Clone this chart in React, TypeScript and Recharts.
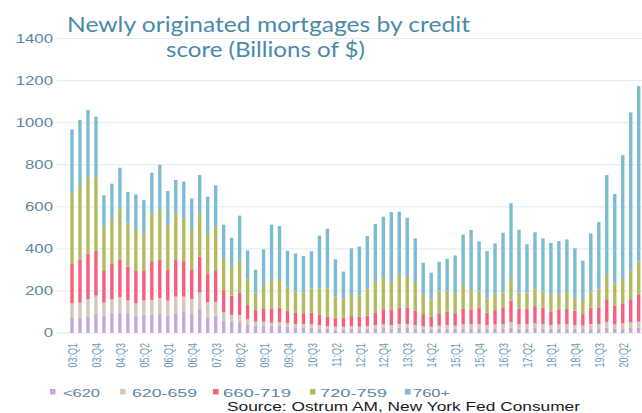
import React from 'react';
import { BarChart, Bar, XAxis, YAxis, CartesianGrid } from 'recharts';

const quarters = [
  '03:Q1','03:Q2','03:Q3','03:Q4','04:Q1','04:Q2','04:Q3','04:Q4',
  '05:Q1','05:Q2','05:Q3','05:Q4','06:Q1','06:Q2','06:Q3','06:Q4',
  '07:Q1','07:Q2','07:Q3','07:Q4','08:Q1','08:Q2','08:Q3','08:Q4',
  '09:Q1','09:Q2','09:Q3','09:Q4','10:Q1','10:Q2','10:Q3','10:Q4',
  '11:Q1','11:Q2','11:Q3','11:Q4','12:Q1','12:Q2','12:Q3','12:Q4',
  '13:Q1','13:Q2','13:Q3','13:Q4','14:Q1','14:Q2','14:Q3','14:Q4',
  '15:Q1','15:Q2','15:Q3','15:Q4','16:Q1','16:Q2','16:Q3','16:Q4',
  '17:Q1','17:Q2','17:Q3','17:Q4','18:Q1','18:Q2','18:Q3','18:Q4',
  '19:Q1','19:Q2','19:Q3','19:Q4','20:Q1','20:Q2','20:Q3','20:Q4',
];

const below620 = [
  75, 73, 78, 90, 82, 94, 97, 90, 84, 87, 87, 90, 84, 97, 100, 90,
  116, 78, 82, 60, 54, 54, 38, 35, 35, 33, 33, 30, 27, 27, 25, 22,
  19, 17, 17, 20, 18, 20, 22, 24, 22, 24, 24, 22, 20, 18, 20, 21,
  20, 22, 22, 22, 20, 22, 22, 26, 22, 22, 24, 22, 20, 22, 22, 20,
  19, 22, 22, 25, 22, 22, 24, 25,
];
const s620to659 = [
  66, 71, 82, 88, 62, 66, 73, 64, 57, 67, 70, 75, 70, 76, 73, 72,
  76, 69, 66, 38, 32, 32, 27, 19, 19, 16, 18, 16, 16, 16, 16, 16,
  14, 13, 13, 13, 12, 13, 16, 17, 16, 19, 19, 16, 13, 12, 15, 17,
  15, 19, 19, 21, 16, 19, 19, 25, 19, 19, 22, 21, 18, 19, 19, 18,
  16, 21, 21, 26, 19, 24, 27, 29,
];
const s660to719 = [
  187, 203, 216, 212, 151, 168, 180, 161, 154, 141, 185, 185, 146, 174, 169, 141,
  171, 134, 147, 106, 92, 104, 68, 55, 63, 68, 69, 59, 55, 51, 56, 48,
  45, 43, 43, 48, 48, 49, 60, 72, 71, 77, 79, 67, 57, 48, 59, 63,
  59, 73, 72, 79, 61, 68, 78, 103, 76, 76, 82, 77, 65, 72, 73, 68,
  55, 77, 77, 106, 89, 95, 106, 127,
];
const s720to759 = [
  339, 352, 364, 350, 211, 214, 243, 206, 195, 179, 227, 235, 214, 222, 203, 187,
  206, 190, 208, 152, 137, 155, 122, 83, 111, 135, 132, 112, 99, 98, 115, 126,
  134, 100, 92, 100, 100, 126, 145, 147, 135, 156, 149, 134, 91, 82, 103, 100,
  95, 114, 91, 75, 68, 80, 73, 103, 76, 76, 80, 77, 78, 71, 81, 64,
  67, 77, 88, 119, 106, 116, 139, 158,
];
const s760plus = [
  301, 314, 320, 289, 149, 168, 193, 149, 169, 158, 193, 215, 161, 159, 175, 150,
  182, 177, 199, 159, 138, 213, 138, 109, 170, 263, 257, 174, 181, 174, 177, 251,
  284, 177, 127, 222, 233, 253, 276, 293, 331, 301, 277, 211, 153, 127, 142, 152,
  180, 240, 286, 239, 225, 237, 285, 360, 298, 229, 271, 253, 247, 253, 250, 233,
  187, 277, 320, 475, 425, 589, 753, 835,
];

const seriesKeys = ['s1', 's2', 's3', 's4', 's5'];
const seriesNames = ['<620', '620-659', '660-719', '720-759', '760+'];
const seriesColors = ['#c9a5d8', '#d8c6bb', '#f7607c', '#b3bb5c', '#7dbbd3'];
const yTicks = [0, 200, 400, 600, 800, 1000, 1200, 1400];

const data = quarters.map((q, i) => ({
  q,
  s1: below620[i],
  s2: s620to659[i],
  s3: s660to719[i],
  s4: s720to759[i],
  s5: s760plus[i],
}));

const FONT = '"Liberation Sans", Arial, sans-serif';
const AXIS_COLOR = '#5a87a3';
const XLABEL_COLOR = '#6899b5';

const YTick = (props: any) => {
  const { x, y, payload } = props;
  return (
    <g transform={`translate(${x},${y})`}>
      <text transform="scale(1.4,1)" textAnchor="end" dy="0.36em" fill={AXIS_COLOR} fontSize={12} fontFamily={FONT}>
        {payload.value}
      </text>
    </g>
  );
};

const XTick = (props: any) => {
  const { x, y, payload } = props;
  return (
    <g transform={`translate(${x},${y})`}>
      <text transform="scale(1.5,1) rotate(-90)" textAnchor="end" dy="0.36em" fill={XLABEL_COLOR} fontSize={9} fontFamily={FONT}>
        {payload.value}
      </text>
    </g>
  );
};

const legendSquareX = [50, 120, 213, 310, 405];
const legendTextX = [63, 132, 223, 320, 413];
const legendTextW = [37, 65, 68, 67, 37];

export default function App() {
  return (
    <div style={{ position: 'absolute', left: 0, top: 0, width: 642, height: 413, overflow: 'hidden', background: '#fff' }}>
      <BarChart width={643} height={413} data={data} margin={{ top: 38.6, right: 0, left: 0, bottom: 0 }}>
        <CartesianGrid vertical={false} stroke="#e1eaef" />
        <YAxis
          width={57}
          domain={[0, 1400]}
          ticks={yTicks}
          axisLine={false}
          tickLine={false}
          tickSize={0}
          tickMargin={4}
          tick={<YTick />}
          interval={0}
        />
        <XAxis
          dataKey="q"
          interval={2}
          height={80}
          padding={{ left: 11.3, right: 0 }}
          axisLine={false}
          tickLine={false}
          tickSize={0}
          tickMargin={10}
          tick={<XTick />}
        />
        {seriesKeys.map((k, i) => (
          <Bar key={k} dataKey={k} name={seriesNames[i]} stackId="a" fill={seriesColors[i]} barSize={3.4} isAnimationActive={false} />
        ))}
      </BarChart>
      <svg width={642} height={413} style={{ position: 'absolute', left: 0, top: 0, pointerEvents: 'none' }}>
        <text x={67} y={31.5} fontSize={22} fontFamily="Lato, 'Open Sans', sans-serif" fill="#4b8aa6" textLength={403} lengthAdjust="spacingAndGlyphs">
          Newly originated mortgages by credit
        </text>
        <text x={166} y={56.5} fontSize={22} fontFamily="Lato, 'Open Sans', sans-serif" fill="#4b8aa6" textLength={199} lengthAdjust="spacingAndGlyphs">
          score (Billions of $)
        </text>
        {seriesNames.map((n, i) => (
          <g key={n}>
            <rect x={legendSquareX[i]} y={389} width={5.5} height={5.5} fill={seriesColors[i]} />
            <text x={legendTextX[i]} y={396.5} fontSize={11.5} fontFamily={FONT} fill={AXIS_COLOR} textLength={legendTextW[i]} lengthAdjust="spacingAndGlyphs">
              {n}
            </text>
          </g>
        ))}
        <text x={227} y={411} fontSize={13.5} fontFamily={FONT} fill="#1a1a1a" textLength={353} lengthAdjust="spacingAndGlyphs">
          Source:  Ostrum AM, New York Fed Consumer
        </text>
      </svg>
    </div>
  );
}
